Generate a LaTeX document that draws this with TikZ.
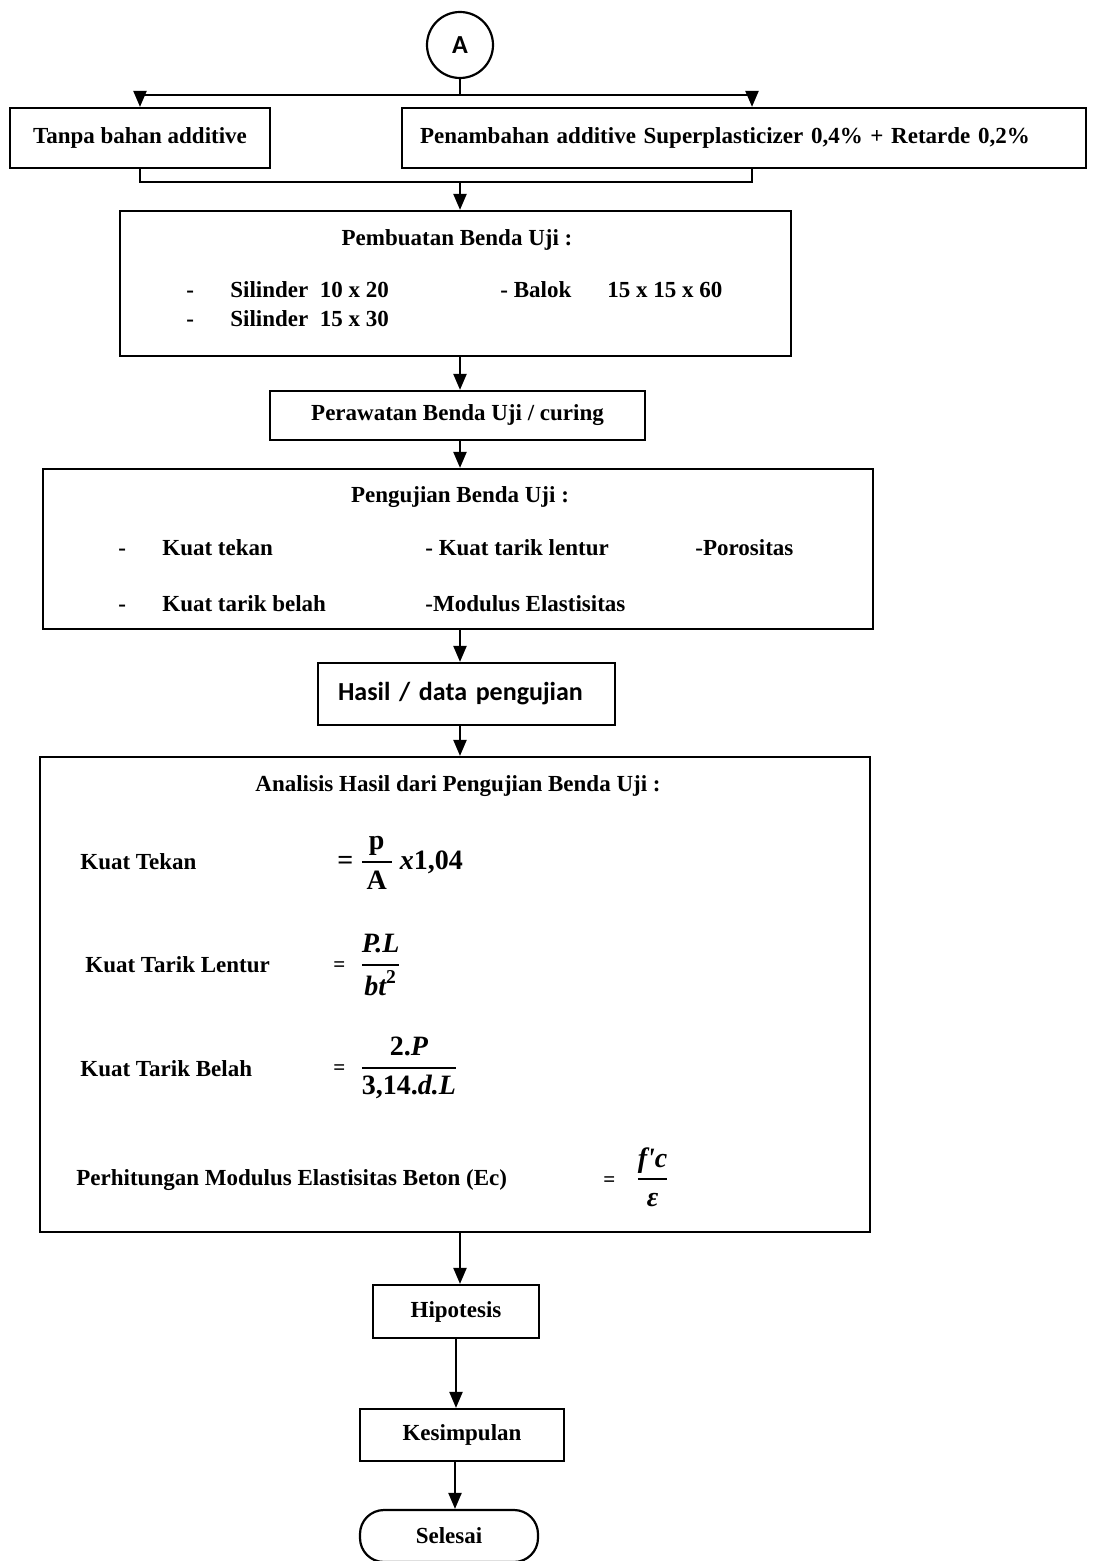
\documentclass[tikz,border=0pt]{standalone}
\usepackage{amsmath}
\usepackage{fontspec}
\setmainfont{Liberation Serif}
\newfontfamily\rawserif{Liberation Serif}
\newfontfamily\sansfont{Carlito}
\usetikzlibrary{arrows.meta, calc}

\begin{document}
\begin{tikzpicture}[
  x=0.5pt, y=-0.5pt,
  >={Triangle[length=8pt, width=6.5pt]},
  block/.style={draw, line width=1.1pt, inner sep=0pt,
    font=\fontsize{11.5}{14}\selectfont\bfseries},
  txt/.style={anchor=base west, inner sep=0pt,
    font=\fontsize{11.5}{14}\selectfont\bfseries},
  ctxt/.style={txt, anchor=base},
  frm/.style={anchor=west, inner sep=0pt,
    font=\fontsize{14}{17}\selectfont\bfseries},
  arr/.style={->, line width=1.1pt},
  wire/.style={line width=1.1pt},
]
\useasboundingbox (0,0) rectangle (1094,1561);
\coordinate (axis) at (460,0);

% --- start connector and the two mixes ---
\node[draw, circle, line width=1.1pt, minimum size=33pt, inner sep=0pt,
  font=\sansfont\bfseries\fontsize{13}{15}\selectfont] (A) at (460,45) {A};
\node[block, minimum width=130pt, minimum height=30pt] (tanpa) at (140,138)
  {Tanpa bahan additive};
\node[block, text width=324pt, inner xsep=9pt, minimum height=30pt, align=left]
  (super) at (744,138) {Penambahan additive Superplasticizer 0,4\% + Retarde 0,2\%};

\coordinate (split) at (460,95);
\coordinate (merge) at (460,182);
\draw[wire] (A) -- (split);
\draw[arr] (split) -| (tanpa.north);
\draw[arr] (split) -| ([xshift=4pt]super.north);
\draw[wire] (tanpa.south) |- (merge) -| ([xshift=4pt]super.south);

% --- making the specimens ---
\node[block, minimum width=335.5pt, minimum height=72.5pt] (buat) at (455.5,283.5) {};
\draw[arr] (merge) -- (merge |- buat.north);
\node[ctxt] (buatT) at (457,246) {Pembuatan Benda Uji :};
\node[txt] (d1) at (186,298) {-};
\node[txt] (sil1) at (230,298) {Silinder~~10 x 20};
\node[txt] (balok) at (500,298) {- Balok};
\node[txt] (balokU) at (607,298) {15 x 15 x 60};
\node[txt] (d2) at (186,327) {-};
\node[txt] (sil2) at (230,327) {Silinder~~15 x 30};

% --- curing ---
\node[block, minimum width=187.5pt, minimum height=24.5pt] (rawat) at (457.5,415.5)
  {Perawatan Benda Uji / curing};
\draw[arr] (buat.south -| axis) -- (rawat.north -| axis);

% --- testing ---
\node[block, minimum width=415pt, minimum height=80pt] (uji) at (458,549) {};
\draw[arr] (rawat.south -| axis) -- (uji.north -| axis);
\node[ctxt] (ujiT) at (460,502) {Pengujian Benda Uji :};
\node[txt] (d3) at (118,555) {-};
\node[txt] (tekan) at (162,555) {Kuat tekan};
\node[txt] (lentur) at (425,555) {- Kuat tarik lentur};
\node[txt] (poros) at (695,555) {-Porositas};
\node[txt] (d4) at (118,611) {-};
\node[txt] (belah) at (162,611) {Kuat tarik belah};
\node[txt] (modulus) at (425,611) {-Modulus Elastisitas};

% --- results ---
\node[block, text width=128.5pt, inner xsep=10pt, minimum height=31pt, align=left,
  font=\sansfont\bfseries\fontsize{13}{15}\selectfont] (hasil) at (466.5,694)
  {Hasil / data pengujian};
\draw[arr] (uji.south -| axis) -- (hasil.north -| axis);

% --- analysis with formulas ---
\node[block, minimum width=415pt, minimum height=237.5pt] (analisis) at (455,994.5) {};
\draw[arr] (hasil.south -| axis) -- (analisis.north -| axis);
\node[ctxt] (analisisT) at (458,791) {Analisis Hasil dari Pengujian Benda Uji :};

\node[txt] (lTekan) at (80,869) {Kuat Tekan};
\node[frm] (fTekan) at (337,863)
  {=\hspace{3pt}$\genfrac{}{}{0.9pt}{0}{\,\text{p}\,}{\,\text{A}\,}$\hspace{3pt}\textit{x}1,04};

\node[txt] (lLentur) at (85,972) {Kuat Tarik Lentur};
\node[frm] (fLentur) at (333,965)
  {{\fontsize{10.5}{12}\selectfont =}\hspace{7pt}%
   $\genfrac{}{}{0.9pt}{0}{\text{\itshape P.L}}{\text{\itshape bt}^{\text{2}}}$};

\node[txt] (lBelah) at (80,1076) {Kuat Tarik Belah};
\node[frm] (fBelah) at (333,1068)
  {{\fontsize{10.5}{12}\selectfont =}\hspace{7pt}%
   $\genfrac{}{}{0.9pt}{0}{\text{2.\itshape P}}{\text{3,14.\itshape d.L}}$};

\node[txt] (lModulus) at (76,1185) {Perhitungan Modulus Elastisitas Beton (Ec)};
\node[frm] (fModulus) at (603,1177)
  {{\fontsize{10.5}{12}\selectfont =}\hspace{10pt}%
   $\genfrac{}{}{0.9pt}{0}{\text{\itshape f{\rawserif '}c}}{\text{\itshape ε}}$};

% --- closing steps ---
\node[block, minimum width=83pt, minimum height=26.5pt] (hipotesis) at (456,1311.5) {Hipotesis};
\node[block, minimum width=102pt, minimum height=26pt] (kesimpulan) at (462,1435) {Kesimpulan};
\node[block, rounded corners=12pt, minimum width=89pt, minimum height=26pt]
  (selesai) at (449,1536) {Selesai};

\draw[arr] (analisis.south -| axis) -- (hipotesis.north -| axis);
\draw[arr] (hipotesis.south) -- (hipotesis.south |- kesimpulan.north);
\draw[arr] ([xshift=-3.5pt]kesimpulan.south) -- ([xshift=-3.5pt]kesimpulan.south |- selesai.north);

\end{tikzpicture}
\end{document}
